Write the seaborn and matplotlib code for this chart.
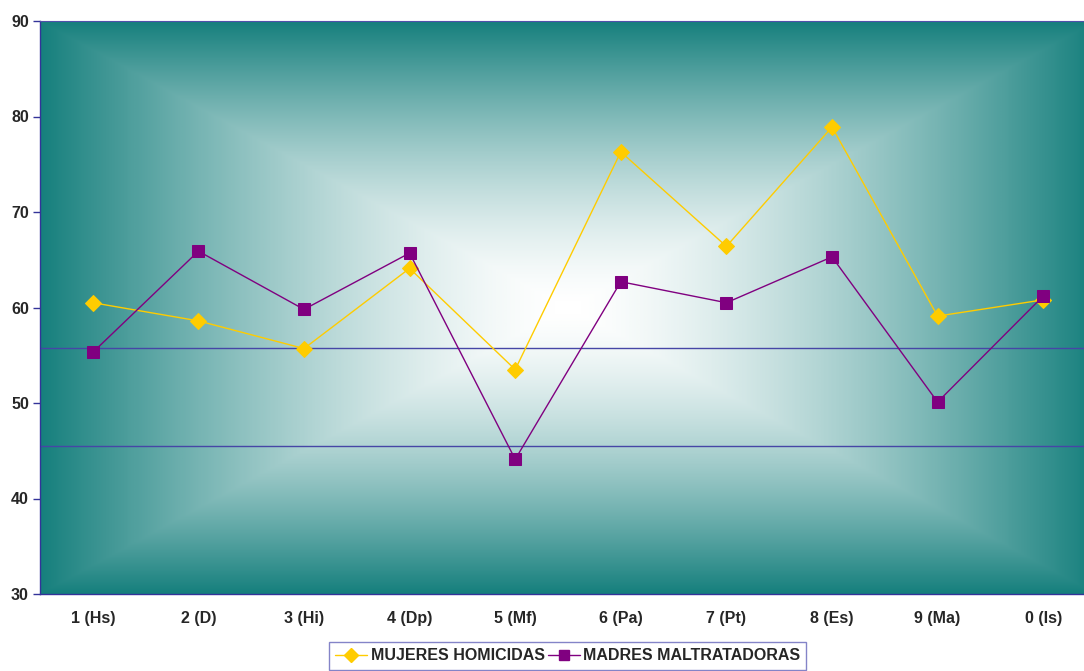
import numpy as np
import pandas as pd
import matplotlib
matplotlib.use("Agg")
import matplotlib.pyplot as plt
from matplotlib.colors import LinearSegmentedColormap
from matplotlib.lines import Line2D
import seaborn as sns

# Scale categories and scores
categories = ["1 (Hs)", "2 (D)", "3 (Hi)", "4 (Dp)", "5 (Mf)",
              "6 (Pa)", "7 (Pt)", "8 (Es)", "9 (Ma)", "0 (Is)"]
mujeres_homicidas = [60.5, 58.6, 55.7, 64.1, 53.5, 76.3, 66.4, 78.9, 59.1, 60.8]
madres_maltratadoras = [55.3, 65.9, 59.8, 65.7, 44.1, 62.7, 60.5, 65.3, 50.1, 61.2]
reference_levels = [55.8, 45.5]
y_ticks = [30, 40, 50, 60, 70, 80, 90]

sns.set_theme(style="white")
plt.rcParams["font.family"] = ["Liberation Sans", "DejaVu Sans"]

W, H = 1084, 671
fig = plt.figure(figsize=(W / 100, H / 100), dpi=100)
ax = fig.add_axes([40 / W, (H - 594) / H, 1056 / W, 573 / H])

pos = np.arange(len(categories))
df = pd.DataFrame({
    "pos": np.concatenate([pos, pos]),
    "valor": mujeres_homicidas + madres_maltratadoras,
    "grupo": ["MUJERES HOMICIDAS"] * len(pos) + ["MADRES MALTRATADORAS"] * len(pos),
})

# Rectangular "from centre" gradient background
teal = (0.086, 0.5, 0.49)
cmap = LinearSegmentedColormap.from_list("bg", [(1, 1, 1), teal])
ny, nx = 400, 700
u = np.abs(np.linspace(-1, 1, nx))[None, :]
v = np.abs(np.linspace(-1, 1, ny))[:, None]
t = np.maximum(u, v) ** 1.5
ax.imshow(t, cmap=cmap, vmin=0, vmax=1, extent=[-0.5, 9.5, 30, 90],
          aspect="auto", zorder=0, interpolation="bilinear")

for lvl in reference_levels:
    ax.axhline(lvl, color="#4646a6", lw=1.0, zorder=1)

yellow = "#FFCC00"
purple = "#800080"
sns.lineplot(data=df[df.grupo == "MUJERES HOMICIDAS"], x="pos", y="valor",
             color=yellow, lw=1.0, marker="D", markersize=8,
             markeredgecolor=yellow, ax=ax, zorder=3, legend=False)
sns.lineplot(data=df[df.grupo == "MADRES MALTRATADORAS"], x="pos", y="valor",
             color=purple, lw=1.0, marker="s", markersize=9,
             markeredgecolor=purple, ax=ax, zorder=4, legend=False)

ax.set_xlim(-0.5, 9.5)
ax.set_ylim(30, 90)
ax.set_xlabel("")
ax.set_ylabel("")

ax.set_yticks(y_ticks)
ax.set_yticklabels([str(v) for v in y_ticks], fontsize=11.5, fontweight="bold")
ax.set_xticks(pos)
ax.set_xticklabels(categories, fontsize=11.5, fontweight="bold")
ax.set_xticks(np.arange(-0.5, 10.0, 1.0), minor=True)
ax.tick_params(axis="x", which="major", length=0, pad=12.5)
ax.tick_params(axis="x", which="minor", length=5, width=1, color="#222266", direction="out")
ax.tick_params(axis="y", which="major", length=5, width=1, color="#333399",
               direction="out", pad=3, left=True)

for side in ["left", "bottom"]:
    ax.spines[side].set_visible(True)
    ax.spines[side].set_color("#333399")
    ax.spines[side].set_linewidth(1.0)
ax.spines["top"].set_visible(True)
ax.spines["top"].set_color("#5050aa")
ax.spines["top"].set_linewidth(0.8)
ax.spines["right"].set_visible(False)

handles = [
    Line2D([0], [0], color=yellow, lw=1.0, marker="D", markersize=7,
           markeredgecolor=yellow),
    Line2D([0], [0], color=purple, lw=1.0, marker="s", markersize=7,
           markeredgecolor=purple),
]
leg = fig.legend(handles, ["MUJERES HOMICIDAS", "MADRES MALTRATADORAS"],
                 loc="upper left", bbox_to_anchor=(329 / W, 1 - 642 / H),
                 ncol=2, frameon=True, fancybox=False,
                 prop={"weight": "bold", "size": 11.5}, handlelength=2.0,
                 handletextpad=0.2, columnspacing=0.2, borderpad=0.4,
                 borderaxespad=0)
leg.get_frame().set_edgecolor("#6666bb")
leg.get_frame().set_linewidth(1.0)

fig.savefig("out.png", dpi=100)
